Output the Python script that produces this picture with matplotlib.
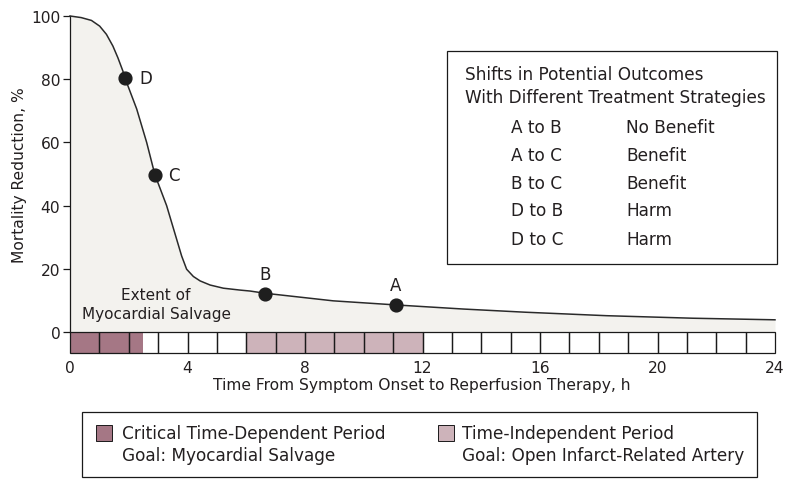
import matplotlib
matplotlib.use("Agg")
import matplotlib.pyplot as plt
from matplotlib.patches import Rectangle

plt.rcParams['font.family'] = ['DejaVu Sans']

# ---- data ----
curve_t = [0, 0.38, 0.73, 1.01, 1.24, 1.46, 1.63, 1.80, 1.87, 2.27, 2.61, 2.89, 3.29,
           3.45, 3.63, 3.80, 3.97, 4.20, 4.43, 4.77, 5.22, 5.79, 6.13, 6.64, 8.96,
           11.1, 13.4, 15.5, 18.27, 21.2, 24]
curve_y = [100, 99.5, 98.6, 96.8, 94.2, 90.5, 86.8, 82.6, 80.4, 70.6, 60.0, 49.8, 40.0,
           35.0, 29.4, 24.1, 19.9, 17.6, 16.2, 14.9, 13.9, 13.3, 13.0, 12.3, 9.9,
           8.6, 7.3, 6.3, 5.2, 4.4, 3.9]
point_labels = ["D", "C", "B", "A"]
point_t = [1.87, 2.89, 6.64, 11.1]
point_y = [80.4, 49.8, 12.2, 8.6]
critical_period = (0, 2.5)
independent_period = (6, 12)
n_cells = 24
x_ticks = [0, 4, 8, 12, 16, 20, 24]
y_ticks = [0, 20, 40, 60, 80, 100]
shift_pairs = ["A to B", "A to C", "B to C", "D to B", "D to C"]
shift_outcomes = ["No Benefit", "Benefit", "Benefit", "Harm", "Harm"]

TXT = '#231f20'
FILL = '#f3f2ee'
DARK = '#a57785'
LIGHT = '#cdb3ba'
W, H = 796, 485

fig = plt.figure(figsize=(W / 100, H / 100), dpi=100)
ax = fig.add_axes([70 / W, 1 - 354 / H, 705 / W, 337 / H])
strip_h = 6.6
ax.set_xlim(0, 24)
ax.set_ylim(-strip_h, 100)

ax.fill_between(curve_t, curve_y, 0, color=FILL, lw=0, zorder=1)
ax.plot(curve_t, curve_y, color='#2a2a2a', lw=1.1, zorder=3, clip_on=False,
        solid_joinstyle='round')
ax.plot(point_t, point_y, 'o', color='#1e1e1e', ms=9.2, zorder=4, clip_on=False)

offsets = {"D": (0.48, 0, 'left', 'center'), "C": (0.45, 0, 'left', 'center'),
           "B": (0, 3.4, 'center', 'bottom'), "A": (0, 3.4, 'center', 'bottom')}
for lab, t, y in zip(point_labels, point_t, point_y):
    dx, dy, ha, va = offsets[lab]
    ax.text(t + dx, y + dy, lab, ha=ha, va=va, fontsize=12, color=TXT, zorder=5)

# strip of hour cells
ax.add_patch(Rectangle((critical_period[0], -strip_h), critical_period[1] - critical_period[0],
                       strip_h, facecolor=DARK, edgecolor='none', zorder=2))
ax.add_patch(Rectangle((independent_period[0], -strip_h), independent_period[1] - independent_period[0],
                       strip_h, facecolor=LIGHT, edgecolor='none', zorder=2))
for i in range(n_cells):
    ax.add_patch(Rectangle((i, -strip_h), 1, strip_h, facecolor='none',
                           edgecolor='#1a1a1a', lw=0.9, zorder=3, clip_on=False))

ax.text(2.93, 12.0, "Extent of", ha='center', va='center', fontsize=11, color=TXT, zorder=5)
ax.text(2.93, 5.8, "Myocardial Salvage", ha='center', va='center', fontsize=11, color=TXT, zorder=5)

for s in ['top', 'right', 'bottom']:
    ax.spines[s].set_visible(False)
ax.spines['left'].set_bounds(0, 100)
ax.spines['left'].set_color('#1a1a1a')
ax.spines['left'].set_linewidth(0.9)
ax.set_yticks(y_ticks)
ax.set_xticks(x_ticks)
ax.tick_params(axis='y', length=5, width=0.9, color='#1a1a1a', labelsize=11.2, labelcolor=TXT, pad=2)
ax.tick_params(axis='x', length=0, labelsize=11.2, labelcolor=TXT, pad=5)
ax.set_facecolor('none')

fig.text(422 / W, 1 - 386 / H, "Time From Symptom Onset to Reperfusion Therapy, h",
         ha='center', va='center', fontsize=11.2, color=TXT)
fig.text(20 / W, 1 - 175 / H, "Mortality Reduction, %", rotation=90,
         ha='center', va='center', fontsize=11.2, color=TXT)

# upper-right box
fig.patches.append(Rectangle((447 / W, 1 - 265 / H), 330 / W, 213 / H, transform=fig.transFigure,
                             facecolor='white', edgecolor='#1a1a1a', lw=0.9, zorder=1))
fig.text(465 / W, 1 - 75 / H, "Shifts in Potential Outcomes", ha='left', va='center',
         fontsize=12.2, color=TXT)
fig.text(465 / W, 1 - 98 / H, "With Different Treatment Strategies", ha='left', va='center',
         fontsize=12.2, color=TXT)
row_y = [128, 156, 184, 211, 240]
for p, o, yy in zip(shift_pairs, shift_outcomes, row_y):
    fig.text(511 / W, 1 - yy / H, p, ha='left', va='center', fontsize=12.2, color=TXT)
    fig.text(626 / W, 1 - yy / H, o, ha='left', va='center', fontsize=12.2, color=TXT)

# bottom legend box
fig.patches.append(Rectangle((82 / W, 1 - 478 / H), 675 / W, 65 / H, transform=fig.transFigure,
                             facecolor='white', edgecolor='#1a1a1a', lw=0.9, zorder=1))
fig.patches.append(Rectangle((96 / W, 1 - 442 / H), 16 / W, 16 / H, transform=fig.transFigure,
                             facecolor=DARK, edgecolor='#1a1a1a', lw=0.7, zorder=2))
fig.patches.append(Rectangle((438 / W, 1 - 442 / H), 16 / W, 16 / H, transform=fig.transFigure,
                             facecolor=LIGHT, edgecolor='#1a1a1a', lw=0.7, zorder=2))
fig.text(122 / W, 1 - 434 / H, "Critical Time-Dependent Period", ha='left', va='center',
         fontsize=12.2, color=TXT)
fig.text(122 / W, 1 - 456 / H, "Goal: Myocardial Salvage", ha='left', va='center',
         fontsize=12.2, color=TXT)
fig.text(462 / W, 1 - 434 / H, "Time-Independent Period", ha='left', va='center',
         fontsize=12.2, color=TXT)
fig.text(462 / W, 1 - 456 / H, "Goal: Open Infarct-Related Artery", ha='left', va='center',
         fontsize=12.2, color=TXT)

fig.savefig("out.png", dpi=100, facecolor='white')
